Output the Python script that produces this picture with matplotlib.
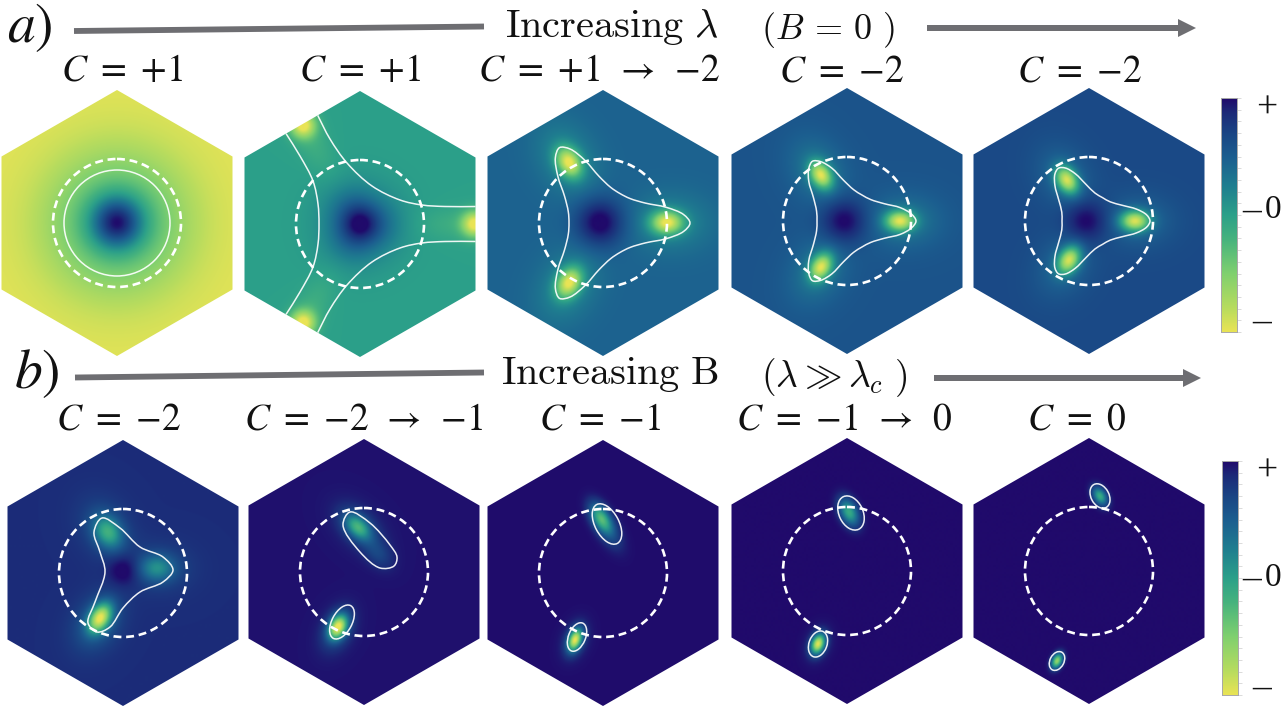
import numpy as np
import matplotlib
matplotlib.use("Agg")
import matplotlib.pyplot as plt
from matplotlib.colors import LinearSegmentedColormap
from matplotlib.patches import Polygon, Circle, Ellipse, PathPatch, FancyArrow
from matplotlib.path import Path

W, H = 1286, 715
plt.rcParams['font.family'] = ['Liberation Serif', 'DejaVu Sans']

# ---------- values ----------
cmap_stops = [0, .1, .25, .4, .5, .62, .74, .85, .94, 1]
cmap_colors = ['#e9e455', '#b8dc5e', '#7fd06f', '#45b27e', '#2ca089', '#1f7f8f',
               '#1c6090', '#1a4584', '#1c2a78', '#200a6b']

a_titles = [r'$C\ =\ {+}1$', r'$C\ =\ {+}1$', r'$C\ =\ {+}1\ \,\rightarrow\ \,{-}2$', r'$C\ =\ {-}2$', r'$C\ =\ {-}2$']
b_titles = [r'$C\ =\ {-}2$', r'$C\ =\ {-}2\ \,\rightarrow\ \,{-}1$', r'$C\ =\ {-}1$', r'$C\ =\ {-}1\ \,\rightarrow\ \,0$', r'$C\ =\ 0$']

# background level of each panel (0 = bottom of the colour bar, 1 = top)
a_levels = [0.015, 0.50, 0.73, 0.79, 0.83]
b_levels = [0.93, 0.985, 0.995, 1.0, 1.0]

# Gaussian lobes: dx, dy, amplitude, sigma-1, sigma-2, angle
a_lobes = [
    [(0, 0, .52, 17, 17, 0), (0, 0, .46, 46, 46, 0)],
    [(0, 0, .26, 13, 13, 0), (18, 0, .10, 17, 17, 0), (-9, -16, .10, 17, 17, 0), (-9, 16, .10, 17, 17, 0),
     (0, 0, .12, 30, 30, 0),
     (115, 0, -.50, 9, 9, 0), (-57, -99, -.50, 9, 9, 60), (-57, 99, -.50, 9, 9, 120),
     (95, 0, -.07, 25, 11, 0), (-48, -82, -.07, 25, 11, 60), (-48, 82, -.07, 25, 11, 120)],
    [(-3, 0, .31, 17, 17, 0),
     (64, 0, -.62, 11, 8, 0), (-34, -60, -.62, 11, 8, 60), (-34, 60, -.62, 11, 8, 120),
     (68, 0, -.14, 28, 20, 0), (-36, -64, -.14, 28, 20, 60), (-36, 64, -.14, 28, 20, 120)],
    [(-3, 0, .25, 16, 16, 0),
     (53, 0, -.65, 10, 7, 0), (-26, -46, -.65, 10, 7, 60), (-26, 46, -.65, 10, 7, 120),
     (58, 0, -.14, 26, 19, 0), (-29, -50, -.14, 26, 19, 60), (-29, 50, -.14, 26, 19, 120)],
    [(-3, 0, .21, 15, 15, 0),
     (46, 0, -.68, 10, 7, 0), (-22, -41, -.68, 10, 7, 60), (-20, 39, -.68, 10, 7, 120),
     (50, 0, -.12, 24, 18, 0), (-25, -44, -.12, 24, 18, 60), (-25, 44, -.12, 24, 18, 120)],
]
b_lobes = [
    [(1, -3, .14, 11, 11, 0),
     (-15, -41, -.42, 12, 9, 60), (34, -5, -.30, 12, 9, 0), (-23, 45, -.80, 11, 7, 120),
     (-18, -45, -.10, 24, 18, 60), (38, -5, -.08, 24, 18, 0), (-26, 50, -.16, 22, 16, 120)],
    [(-6, -45, -.52, 11, 7, 45), (14, -19, -.12, 12, 8, 50), (-5, -45, -.08, 22, 14, 45),
     (-26, 55, -.92, 9, 6, 115), (-27, 58, -.12, 17, 11, 115)],
    [(-2, -55, -.56, 11, 6, 60), (6, -42, -.16, 14, 7, 60), (-28, 67, -.90, 8, 4.5, 110),
     (-28, 67, -.10, 14, 9, 110)],
    [(2, -59, -.55, 10, 6, 65), (-29, 73, -.90, 7, 4.5, 110), (-29, 73, -.08, 13, 9, 110)],
    [(11, -75, -.55, 7, 4.5, 60), (-32, 90, -.80, 5.5, 3.5, 115)],
]

# outline of a closed three-fold curve: one mirrored sector as angle / radius
sector_angles = [0, 6, 14, 25, 42, 60]
a_sector_radii = {2: [87, 81, 65, 47, 36.5, 34], 3: [69, 65, 55, 41, 32, 30], 4: [61, 58, 49, 37, 28.6, 27]}
a1_circle_radius = 53

# open curves of the second panel
a2_upper = [(-43, -110), (-30, -85), (-13, -61), (12, -38), (40, -24), (62, -19), (85, -17.5), (118, -17.5)]
a2_left = [(-75, -92), (-60, -68), (-47, -43), (-42, -20), (-41, 0), (-42, 20), (-47, 43), (-60, 68), (-75, 92)]

# closed outlines in the lower row
b1_outline = [(-21, -55), (-3, -45), (17, -26), (40, -16), (50, -3), (40, 9), (17, 19), (0, 35), (-13, 54),
              (-26, 59), (-35, 50), (-28, 29), (-18, -1), (-23, -21), (-29, -41)]
b2_outline = [(-14, -60), (-21, -47), (-4, -20), (16, -4), (30, -6), (33, -15), (26, -27), (6, -49)]
# ellipses: cx, cy, full width, full height, angle
b_ellipses = {1: [(-22, 50, 37, 20, -62)],
              2: [(4, -49, 44, 24, 62), (-26, 64, 30, 17, -68)],
              3: [(4, -58, 36, 24, 65), (-29, 73, 27, 18, -70)],
              4: [(11, -75, 26, 18, 62), (-32, 90, 20, 14, -62)]}

# ---------- layout, pixels of the picture ----------
a_cx = [117, 360, 603, 847, 1089]
a_cy = [223, 224, 223, 221, 221]
b_cx = [123, 364, 603, 847, 1089]
b_cy = [573, 572, 573, 571, 571]
HALF_W, HALF_H = 115.5, 133.0
BOX = 140
CIRCLE_R = 64

cmap = LinearSegmentedColormap.from_list('berry', list(zip(cmap_stops, cmap_colors)))
fig = plt.figure(figsize=(W / 100, H / 100), dpi=100)

over = fig.add_axes([0, 0, 1, 1], zorder=5)
over.set_xlim(0, W)
over.set_ylim(H, 0)
over.axis('off')
over.patch.set_alpha(0)


def smooth_path(pts, closed):
    """Centripetal Catmull-Rom spline through the read points, as Bezier segments."""
    pts = [np.asarray(p, float) for p in pts]
    n = len(pts)
    verts = [pts[0]]
    codes = [Path.MOVETO]
    last = n if closed else n - 1

    def tangent(a, b, c):
        da = np.linalg.norm(b - a) ** .5
        dc = np.linalg.norm(c - b) ** .5
        if da == 0:
            return (c - b) / dc
        if dc == 0:
            return (b - a) / da
        return (b - a) / da - (c - a) / (da + dc) + (c - b) / dc

    for i in range(last):
        if closed:
            p0, p1, p2, p3 = pts[(i - 1) % n], pts[i], pts[(i + 1) % n], pts[(i + 2) % n]
        else:
            p0, p1, p2, p3 = pts[max(i - 1, 0)], pts[i], pts[i + 1], pts[min(i + 2, n - 1)]
        d = np.linalg.norm(p2 - p1) ** .5
        verts += [p1 + tangent(p0, p1, p2) * d / 3, p2 - tangent(p1, p2, p3) * d / 3, p2]
        codes += [Path.CURVE4] * 3
    return Path(verts, codes)


def sector_curve(radii):
    pts = []
    for k in range(3):
        base = 120 * k
        for a, r in zip(sector_angles, radii):
            t = np.radians(base + a)
            pts.append((r * np.cos(t), r * np.sin(t)))
        for a, r in list(zip(sector_angles, radii))[-2:0:-1]:
            t = np.radians(base + 120 - a)
            pts.append((r * np.cos(t), r * np.sin(t)))
    return pts


def field(x, y, level, lobes):
    z = np.full_like(x, level, dtype=float)
    for dx, dy, amp, s1, s2, ang in lobes:
        t = np.radians(ang)
        u = (x - dx) * np.cos(t) + (y - dy) * np.sin(t)
        v = -(x - dx) * np.sin(t) + (y - dy) * np.cos(t)
        z += amp * np.exp(-.5 * ((u / s1) ** 2 + (v / s2) ** 2))
    return np.clip(z, 0, 1)


def panel(cx, cy, level, lobes):
    ax = fig.add_axes([(cx - BOX) / W, 1 - (cy + BOX) / H, 2 * BOX / W, 2 * BOX / H])
    g = np.linspace(-BOX, BOX, 561)
    x, y = np.meshgrid(g, g)
    im = ax.imshow(field(x, y, level, lobes), cmap=cmap, vmin=0, vmax=1, origin='lower',
                   extent=(-BOX, BOX, -BOX, BOX), interpolation='bilinear')
    hexagon = Polygon([(0, -HALF_H), (HALF_W, -HALF_H / 2), (HALF_W, HALF_H / 2), (0, HALF_H),
                       (-HALF_W, HALF_H / 2), (-HALF_W, -HALF_H / 2)], closed=True,
                      transform=ax.transData, fc='none', ec='none')
    ax.add_patch(hexagon)
    im.set_clip_path(hexagon)
    ax.set_xlim(-BOX, BOX)
    ax.set_ylim(BOX, -BOX)
    ax.axis('off')
    ax.add_patch(Circle((0, 0), CIRCLE_R, fc='none', ec='white', lw=1.9, ls=(0, (3.0, 1.8))))
    return ax, hexagon


def curve(ax, pts, closed, clip=None):
    p = PathPatch(smooth_path(pts, closed), fc='none', ec='white', lw=1.1, alpha=.92)
    ax.add_patch(p)
    if clip is not None:
        p.set_clip_path(clip)


for i in range(5):
    ax, hx = panel(a_cx[i], a_cy[i], a_levels[i], a_lobes[i])
    if i == 0:
        ax.add_patch(Circle((0, 0), a1_circle_radius, fc='none', ec='white', lw=1.1, alpha=.92))
    elif i == 1:
        curve(ax, a2_upper, False, hx)
        curve(ax, [(px, -py) for px, py in a2_upper], False, hx)
        curve(ax, a2_left, False, hx)
    else:
        curve(ax, sector_curve(a_sector_radii[i]), True)

for i in range(5):
    ax, hx = panel(b_cx[i], b_cy[i], b_levels[i], b_lobes[i])
    if i == 0:
        curve(ax, b1_outline, True)
    if i == 1:
        curve(ax, b2_outline, True)
    for (ex, ey, ew, eh, ea) in b_ellipses.get(i, []):
        ax.add_patch(Ellipse((ex, ey), ew, eh, angle=ea, fc='none', ec='white', lw=1.1, alpha=.92))


def colorbar(x0, x1, y0, y1):
    ax = fig.add_axes([x0 / W, 1 - y1 / H, (x1 - x0) / W, (y1 - y0) / H])
    ax.imshow(np.linspace(1, 0, 256)[:, None], cmap=cmap, vmin=0, vmax=1, aspect='auto', extent=(0, 1, 0, 1))
    ax.set_xticks([])
    ax.yaxis.tick_right()
    ax.set_yticks(np.linspace(0, 1, 21))
    ax.set_yticklabels([])
    ax.tick_params(axis='y', length=3, width=.6, color='#d5d5d5')
    for s in ax.spines.values():
        s.set_linewidth(.7)
        s.set_color('#a8a8a8')


colorbar(1220.5, 1236.5, 98, 332)
colorbar(1221.5, 1237.5, 461, 695)

for yp, y0, ym in [(108, 210, 321), (471, 578, 687)]:
    over.text(1267, yp, '+', ha='center', va='center', fontsize=27, color='#111111')
    over.text(1252, y0, '\u2013', ha='center', va='center', fontsize=27, color='#111111')
    over.text(1273.5, y0, '0', ha='center', va='center', fontsize=24, color='#111111')
    over.text(1262, ym, '\u2013', ha='center', va='center', fontsize=27, color='#111111')

TITLE_KW = dict(ha='center', va='center', fontsize=27, math_fontfamily='stix', color='#111111')
for x, t in zip([122, 360, 599, 842, 1080], a_titles):
    over.text(x, 72, t, **TITLE_KW)
for x, t in zip([119, 364, 600, 844, 1077], b_titles):
    over.text(x, 420, t, **TITLE_KW)

HEAD_KW = dict(ha='left', va='center', math_fontfamily='cm', color='#111111')
over.text(505, 27, r'$\mathrm{Increasing}\ \lambda$', fontsize=29, **HEAD_KW)
over.text(761, 30, r'$(B\,=\,0\ )$', fontsize=26, **HEAD_KW)
over.text(501, 375, r'$\mathrm{Increasing\ B}$', fontsize=29, **HEAD_KW)
over.text(761, 378, r'$(\lambda\gg\lambda_c\ )$', fontsize=27, **HEAD_KW)
over.text(7, 27, r'$a)$', ha='left', va='center', fontsize=40, math_fontfamily='stix', color='#111111')
over.text(14, 373, r'$b)$', ha='left', va='center', fontsize=40, math_fontfamily='stix', color='#111111')

GREY = '#6e6e72'
for xs, ys in [((74, 484), (31, 26.5)), ((75, 484), (377.5, 372.5))]:
    over.plot(xs, ys, color=GREY, lw=4.2, solid_capstyle='butt')
for x0, x1, y in [(927, 1196, 28), (934, 1201, 378)]:
    over.add_patch(FancyArrow(x0, y, x1 - x0, 0, width=6, head_width=18, head_length=18,
                              length_includes_head=True, color=GREY, lw=0))

fig.savefig('out.png', dpi=100)
